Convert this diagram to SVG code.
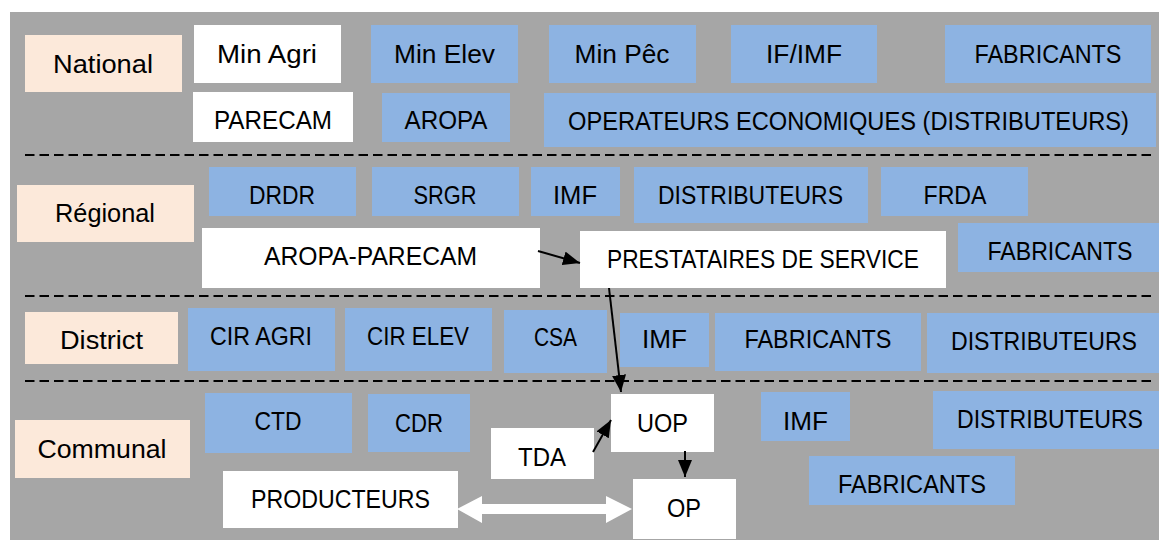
<svg xmlns="http://www.w3.org/2000/svg" width="1159" height="540" viewBox="0 0 1159 540">
<defs>
<style>
.bg{fill:#a6a6a6}
.lvl{fill:#fce9da}
.w{fill:#ffffff}
.b{fill:#8db3e2}
text{font-family:"Liberation Sans",Arial,sans-serif;font-size:25px;fill:#000;text-anchor:middle}
.dash{stroke:#000;stroke-width:2;stroke-dasharray:9.5 5;fill:none}
.conn{stroke:#000;stroke-width:2;fill:none;marker-end:url(#ah)}
</style>
<marker id="ah" viewBox="0 0 17 14" refX="17" refY="7" markerWidth="17" markerHeight="14" markerUnits="userSpaceOnUse" orient="auto">
<path d="M0,0 L17,7 L0,14 Z" fill="#000"/>
</marker>
</defs>
<rect class="bg" x="10" y="12" width="1149" height="528"/>
<g id="separators">
<line class="dash" x1="25" y1="155" x2="1152" y2="155"/>
<line class="dash" x1="25" y1="296" x2="1152" y2="296"/>
<line class="dash" x1="25" y1="381" x2="1152" y2="381"/>
</g>
<g id="level-national"><rect class="lvl" x="25" y="35" width="157" height="57"/><text x="103" y="73" textLength="100" lengthAdjust="spacingAndGlyphs">National</text></g>
<g id="min-agri"><rect class="w" x="194" y="25" width="147" height="58"/><text x="267" y="63" textLength="100" lengthAdjust="spacingAndGlyphs">Min Agri</text></g>
<g id="min-elev"><rect class="b" x="371" y="25" width="147" height="58"/><text x="444.5" y="63" textLength="101" lengthAdjust="spacingAndGlyphs">Min Elev</text></g>
<g id="min-pec"><rect class="b" x="549" y="25" width="147" height="58"/><text x="622" y="63" textLength="95" lengthAdjust="spacingAndGlyphs">Min Pêc</text></g>
<g id="if-imf"><rect class="b" x="731" y="25" width="146" height="58"/><text x="804" y="63" textLength="76" lengthAdjust="spacingAndGlyphs">IF/IMF</text></g>
<g id="fabricants-nat"><rect class="b" x="945" y="25" width="206" height="58"/><text x="1048" y="63" textLength="147" lengthAdjust="spacingAndGlyphs">FABRICANTS</text></g>
<g id="parecam"><rect class="w" x="193" y="92" width="160" height="50"/><text x="273" y="129" textLength="118" lengthAdjust="spacingAndGlyphs">PARECAM</text></g>
<g id="aropa"><rect class="b" x="382" y="93" width="128" height="49"/><text x="446" y="129" textLength="83" lengthAdjust="spacingAndGlyphs">AROPA</text></g>
<g id="operateurs"><rect class="b" x="544" y="93" width="612" height="54"/><text x="848.5" y="130" textLength="561" lengthAdjust="spacingAndGlyphs">OPERATEURS ECONOMIQUES (DISTRIBUTEURS)</text></g>

<g id="level-regional"><rect class="lvl" x="17" y="185" width="177" height="57"/><text x="105" y="222" textLength="100" lengthAdjust="spacingAndGlyphs">Régional</text></g>
<g id="drdr"><rect class="b" x="209" y="167" width="147" height="49"/><text x="282" y="204" textLength="66" lengthAdjust="spacingAndGlyphs">DRDR</text></g>
<g id="srgr"><rect class="b" x="372" y="167" width="147" height="49"/><text x="445" y="204" textLength="63" lengthAdjust="spacingAndGlyphs">SRGR</text></g>
<g id="imf-reg"><rect class="b" x="531" y="167" width="89" height="49"/><text x="575" y="204" textLength="44" lengthAdjust="spacingAndGlyphs">IMF</text></g>
<g id="distributeurs-reg"><rect class="b" x="634" y="167" width="234" height="56"/><text x="750.5" y="204" textLength="185" lengthAdjust="spacingAndGlyphs">DISTRIBUTEURS</text></g>
<g id="frda"><rect class="b" x="881" y="167" width="147" height="49"/><text x="955" y="204" textLength="63" lengthAdjust="spacingAndGlyphs">FRDA</text></g>
<g id="aropa-parecam"><rect class="w" x="202" y="228" width="338" height="60"/><text x="370.5" y="265" textLength="213" lengthAdjust="spacingAndGlyphs">AROPA-PARECAM</text></g>
<g id="prestataires"><rect class="w" x="580" y="231" width="366" height="57"/><text x="763" y="268" textLength="312" lengthAdjust="spacingAndGlyphs">PRESTATAIRES DE SERVICE</text></g>
<g id="fabricants-reg"><rect class="b" x="958" y="223" width="201" height="49"/><text x="1060" y="260" textLength="145" lengthAdjust="spacingAndGlyphs">FABRICANTS</text></g>

<g id="level-district"><rect class="lvl" x="25" y="312" width="153" height="52"/><text x="101.5" y="349" textLength="83" lengthAdjust="spacingAndGlyphs">District</text></g>
<g id="cir-agri"><rect class="b" x="188" y="308" width="147" height="63"/><text x="261" y="345" textLength="102" lengthAdjust="spacingAndGlyphs">CIR AGRI</text></g>
<g id="cir-elev"><rect class="b" x="345" y="308" width="147" height="63"/><text x="418" y="345" textLength="102" lengthAdjust="spacingAndGlyphs">CIR ELEV</text></g>
<g id="csa"><rect class="b" x="504" y="310" width="103" height="63"/><text x="555.5" y="346" textLength="43" lengthAdjust="spacingAndGlyphs">CSA</text></g>
<g id="imf-dist"><rect class="b" x="620" y="313" width="89" height="54"/><text x="664.5" y="348" textLength="45" lengthAdjust="spacingAndGlyphs">IMF</text></g>
<g id="fabricants-dist"><rect class="b" x="715" y="313" width="206" height="58"/><text x="818" y="348" textLength="147" lengthAdjust="spacingAndGlyphs">FABRICANTS</text></g>
<g id="distributeurs-dist"><rect class="b" x="927" y="313" width="232" height="60"/><text x="1044" y="350" textLength="186" lengthAdjust="spacingAndGlyphs">DISTRIBUTEURS</text></g>

<g id="level-communal"><rect class="lvl" x="15" y="420" width="175" height="58"/><text x="102" y="458" textLength="129" lengthAdjust="spacingAndGlyphs">Communal</text></g>
<g id="ctd"><rect class="b" x="205" y="393" width="147" height="60"/><text x="278" y="430" textLength="47" lengthAdjust="spacingAndGlyphs">CTD</text></g>
<g id="cdr"><rect class="b" x="368" y="394" width="102" height="58"/><text x="419" y="432" textLength="48" lengthAdjust="spacingAndGlyphs">CDR</text></g>
<g id="producteurs"><rect class="w" x="223" y="471" width="235" height="57"/><text x="340.5" y="508" textLength="179" lengthAdjust="spacingAndGlyphs">PRODUCTEURS</text></g>
<g id="tda"><rect class="w" x="491" y="428" width="103" height="51"/><text x="542" y="466" textLength="48" lengthAdjust="spacingAndGlyphs">TDA</text></g>
<g id="uop"><rect class="w" x="611" y="394" width="103" height="58"/><text x="662.5" y="432" textLength="51" lengthAdjust="spacingAndGlyphs">UOP</text></g>
<g id="op"><rect class="w" x="633" y="479" width="103" height="60"/><text x="684" y="517" textLength="34" lengthAdjust="spacingAndGlyphs">OP</text></g>
<g id="imf-com"><rect class="b" x="761" y="392" width="89" height="49"/><text x="805.5" y="430" textLength="45" lengthAdjust="spacingAndGlyphs">IMF</text></g>
<g id="distributeurs-com"><rect class="b" x="933" y="391" width="226" height="58"/><text x="1050" y="428" textLength="186" lengthAdjust="spacingAndGlyphs">DISTRIBUTEURS</text></g>
<g id="fabricants-com"><rect class="b" x="809" y="456" width="206" height="49"/><text x="912" y="493" textLength="148" lengthAdjust="spacingAndGlyphs">FABRICANTS</text></g>

<g id="connectors">
<line class="conn" x1="538" y1="251" x2="580" y2="263"/>
<line class="conn" x1="609" y1="288" x2="621" y2="392"/>
<line class="conn" x1="593" y1="452" x2="611" y2="420"/>
<line class="conn" x1="685" y1="451" x2="685" y2="477"/>
<polygon points="457,509 482,496 482,504 606,504 606,496 632,509 606,523 606,514 482,514 482,523" fill="#ffffff"/>
</g>
</svg>
